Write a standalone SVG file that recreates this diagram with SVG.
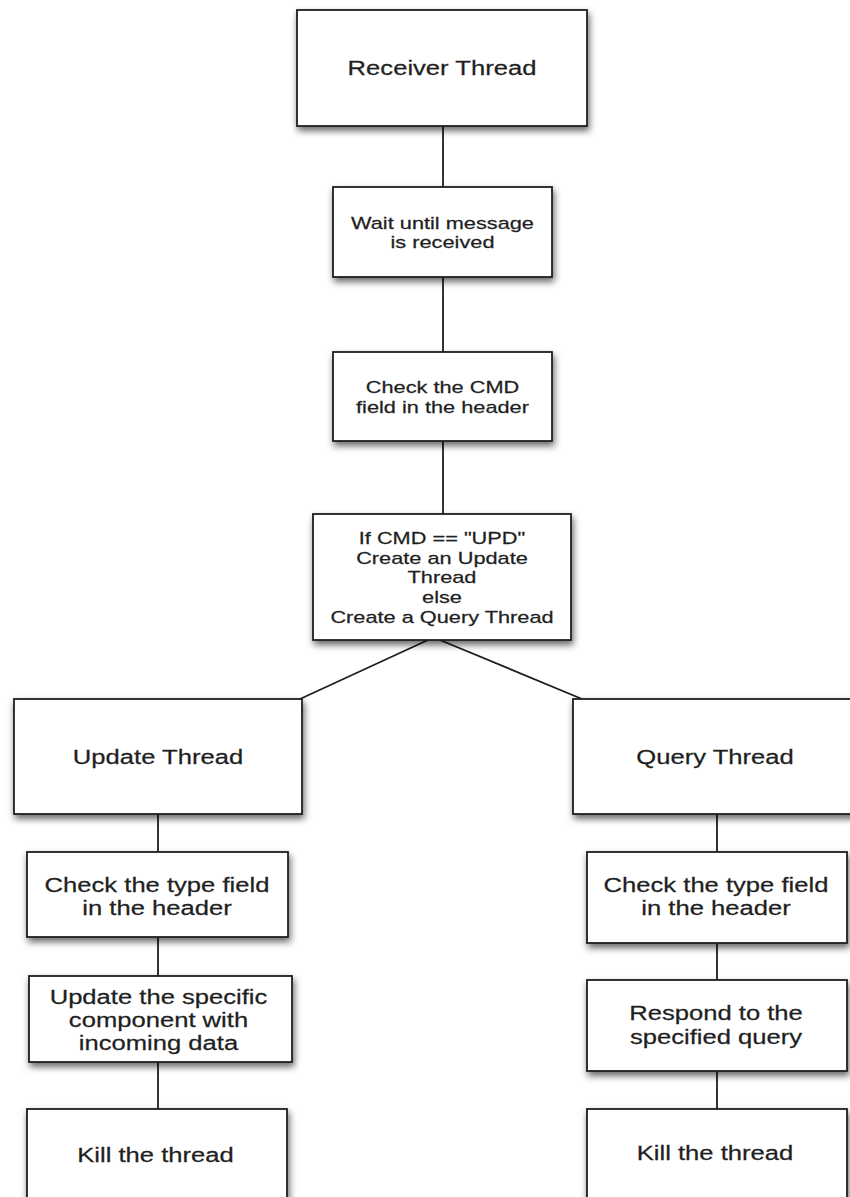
<svg xmlns="http://www.w3.org/2000/svg" width="850" height="1197" viewBox="0 0 850 1197">
  <defs>
    <filter id="shadow" x="-10%" y="-10%" width="130%" height="140%">
      <feDropShadow dx="1.5" dy="4" stdDeviation="3.5" flood-color="#000" flood-opacity="0.6"/>
    </filter>
  </defs>
  <style>
    .box { fill: #ffffff; stroke: #1e1e1e; stroke-width: 1.8; filter: url(#shadow); }
    .lbl { font-family: "Liberation Sans", Arial, Helvetica, sans-serif; fill: #1f1f1f; stroke: #1f1f1f; stroke-width: 0.25; text-anchor: middle; }
    .big { font-size: 20px; }
    .small { font-size: 17px; }
    .link { stroke: #1e1e1e; stroke-width: 1.8; fill: none; }
  </style>
  <rect width="850" height="1197" fill="#ffffff"/>

  <!-- connectors -->
  <g id="connectors">
    <line class="link" x1="443" y1="126" x2="443" y2="187"/>
    <line class="link" x1="443" y1="277" x2="443" y2="352"/>
    <line class="link" x1="443" y1="441" x2="443" y2="514"/>
    <line class="link" x1="428" y1="640" x2="300" y2="699"/>
    <line class="link" x1="440" y1="640" x2="582" y2="699"/>
    <line class="link" x1="158" y1="814" x2="158" y2="852"/>
    <line class="link" x1="717" y1="814" x2="717" y2="852"/>
    <line class="link" x1="158" y1="937" x2="158" y2="976"/>
    <line class="link" x1="717" y1="943" x2="717" y2="980"/>
    <line class="link" x1="158" y1="1062" x2="158" y2="1109"/>
    <line class="link" x1="717" y1="1071" x2="717" y2="1109"/>
  </g>

  <g id="receiver-thread">
    <rect class="box" x="297" y="10" width="290" height="116"/>
    <text class="lbl big" transform="translate(442,75) scale(1.28,1)">Receiver Thread</text>
  </g>

  <g id="wait-message">
    <rect class="box" x="333" y="187" width="219" height="90"/>
    <text class="lbl small" transform="translate(442.5,229) scale(1.28,1)"><tspan x="0" y="0">Wait until message</tspan><tspan x="0" y="19.5">is received</tspan></text>
  </g>

  <g id="check-cmd">
    <rect class="box" x="333" y="352" width="219" height="89"/>
    <text class="lbl small" transform="translate(442.5,393) scale(1.28,1)"><tspan x="0" y="0">Check the CMD</tspan><tspan x="0" y="20">field in the header</tspan></text>
  </g>

  <g id="dispatch">
    <rect class="box" x="313" y="514" width="258" height="126"/>
    <text class="lbl small" transform="translate(442,544) scale(1.28,1)"><tspan x="0" y="0">If CMD == "UPD"</tspan><tspan x="0" y="19.7">Create an Update</tspan><tspan x="0" y="39.4">Thread</tspan><tspan x="0" y="59.1">else</tspan><tspan x="0" y="78.8">Create a Query Thread</tspan></text>
  </g>

  <g id="update-thread">
    <rect class="box" x="14" y="699" width="288" height="115"/>
    <text class="lbl big" transform="translate(158,764) scale(1.28,1)">Update Thread</text>
  </g>

  <g id="query-thread">
    <rect class="box" x="573" y="699" width="300" height="115"/>
    <text class="lbl big" transform="translate(715,764) scale(1.28,1)">Query Thread</text>
  </g>

  <g id="update-check-type">
    <rect class="box" x="27" y="852" width="261" height="85"/>
    <text class="lbl big" transform="translate(157,892) scale(1.28,1)"><tspan x="0" y="0">Check the type field</tspan><tspan x="0" y="23">in the header</tspan></text>
  </g>

  <g id="query-check-type">
    <rect class="box" x="587" y="852" width="260" height="91"/>
    <text class="lbl big" transform="translate(716,892) scale(1.28,1)"><tspan x="0" y="0">Check the type field</tspan><tspan x="0" y="23">in the header</tspan></text>
  </g>

  <g id="update-component">
    <rect class="box" x="29" y="976" width="263" height="86"/>
    <text class="lbl big" transform="translate(158.5,1004) scale(1.28,1)"><tspan x="0" y="0">Update the specific</tspan><tspan x="0" y="23">component with</tspan><tspan x="0" y="46">incoming data</tspan></text>
  </g>

  <g id="respond-query">
    <rect class="box" x="587" y="980" width="260" height="91"/>
    <text class="lbl big" transform="translate(716,1020) scale(1.28,1)"><tspan x="0" y="0">Respond to the</tspan><tspan x="0" y="24">specified query</tspan></text>
  </g>

  <g id="update-kill">
    <rect class="box" x="27" y="1109" width="260" height="110"/>
    <text class="lbl big" transform="translate(155.5,1162) scale(1.28,1)">Kill the thread</text>
  </g>

  <g id="query-kill">
    <rect class="box" x="587" y="1109" width="260" height="110"/>
    <text class="lbl big" transform="translate(715,1160) scale(1.28,1)">Kill the thread</text>
  </g>
</svg>
